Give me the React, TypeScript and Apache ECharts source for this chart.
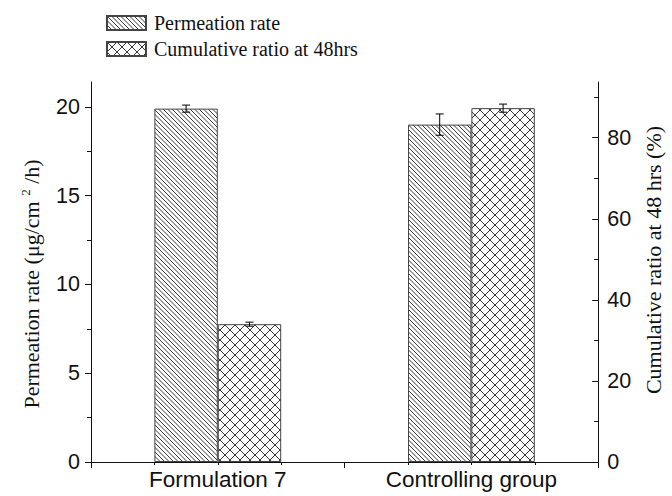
import React, { useEffect, useRef } from 'react';
import * as echarts from 'echarts';

const categories = ['Formulation 7', 'Controlling group'];
const seriesNames = ['Permeation rate', 'Cumulative ratio at 48hrs'];
const permeationRate = [19.9, 19.0];
const permeationErr = [0.2, 0.6];
const cumulativeRatio = [34.0, 87.3];
const cumulativeErr = [0.5, 1.0];
const leftTicks = [0, 5, 10, 15, 20];
const rightTicks = [0, 20, 40, 60, 80];

const SANS = 'Liberation Sans, Arial, sans-serif';
const SERIF = 'Liberation Serif, Times New Roman, serif';

function svgUrl(size: number, d: string) {
  const svg = `<svg xmlns='http://www.w3.org/2000/svg' width='${size}' height='${size}'><rect width='${size}' height='${size}' fill='white'/><path d='${d}' stroke='#222' stroke-width='0.9' fill='none'/></svg>`;
  return 'data:image/svg+xml;charset=utf-8,' + encodeURIComponent(svg);
}

function hatchPattern() {
  const s = 9;
  let d = '';
  for (const c of [-9, -4.5, 0, 4.5, 9]) {
    d += `M-1 ${-1 + c} L${s + 1} ${s + 1 + c} `;
  }
  return { image: svgUrl(s, d), repeat: 'repeat', imageWidth: s, imageHeight: s };
}

function crossPattern() {
  const s = 10;
  let d = '';
  for (const c of [-10, 0, 10]) {
    d += `M-1 ${-1 + c} L${s + 1} ${s + 1 + c} `;
  }
  for (const c of [0, 10, 20]) {
    d += `M-1 ${1 + c} L${s + 1} ${-s - 1 + c} `;
  }
  return { image: svgUrl(s, d), repeat: 'repeat', imageWidth: s, imageHeight: s };
}

function errorSeries(name: string, values: number[], errs: number[], yAxisIndex: number, side: number) {
  return {
    type: 'custom',
    name,
    xAxisIndex: 0,
    yAxisIndex,
    silent: true,
    z: 10,
    encode: { x: 0, y: 1 },
    data: values.map((v, i) => [i, v, errs[i]]),
    renderItem: (params: any, api: any) => {
      const i = api.value(0);
      const v = api.value(1);
      const e = api.value(2);
      const bw = api.size([1, 0])[0];
      const top = api.coord([i, v + e]);
      const bot = api.coord([i, v - e]);
      const x = top[0] + side * bw / 8;
      const hw = 4;
      const st = { stroke: '#000', lineWidth: 1 };
      return {
        type: 'group',
        children: [
          { type: 'line', shape: { x1: x, y1: top[1], x2: x, y2: bot[1] }, style: st },
          { type: 'line', shape: { x1: x - hw, y1: top[1], x2: x + hw, y2: top[1] }, style: st },
          { type: 'line', shape: { x1: x - hw, y1: bot[1], x2: x + hw, y2: bot[1] }, style: st },
        ],
      };
    },
  };
}

export default function App() {
  const ref = useRef<HTMLDivElement>(null);
  useEffect(() => {
    if (!ref.current) return;
    const chart = echarts.init(ref.current, null, { renderer: 'svg' });
    const axisLineStyle = { color: '#111', width: 1 };
    chart.setOption({
      animation: false,
      backgroundColor: '#fff',
      grid: { left: 91, right: 66, top: 82, bottom: 34 },
      legend: {
        data: seriesNames,
        orient: 'vertical',
        left: 106,
        top: 13,
        padding: 0,
        itemWidth: 39,
        itemHeight: 14,
        itemGap: 6,
        icon: 'rect',
        textStyle: { fontFamily: SERIF, fontSize: 20, color: '#111', padding: [0, 0, 0, 3] },
      },
      xAxis: [
        {
          type: 'category',
          data: categories,
          position: 'bottom',
          axisLine: { show: true, lineStyle: axisLineStyle },
          axisTick: { show: false },
          axisLabel: { fontFamily: SANS, fontSize: 22.5, color: '#111', margin: 6 },
          splitLine: { show: false },
        },
        {
          type: 'value',
          position: 'bottom',
          min: 0,
          max: 2,
          interval: 1,
          axisLine: { show: false },
          axisLabel: { show: false },
          axisTick: { show: true, length: 6, lineStyle: axisLineStyle },
          minorTick: { show: true, splitNumber: 4, length: 3, lineStyle: axisLineStyle },
          splitLine: { show: false },
        },
      ],
      yAxis: [
        {
          type: 'value',
          position: 'left',
          min: 0,
          max: 21.4,
          interval: 5,
          name: 'Permeation rate (μg/cm {sup|2} /h)',
          nameLocation: 'middle',
          nameRotate: 90,
          nameGap: 48,
          nameTextStyle: {
            fontFamily: SERIF,
            fontSize: 22,
            color: '#111',
            lineHeight: 24,
            padding: [0, 24, 0, 0],
            rich: { sup: { fontFamily: SERIF, fontSize: 13, color: '#111', verticalAlign: 'top', lineHeight: 24 } },
          },
          axisLine: { show: true, lineStyle: axisLineStyle },
          axisTick: { show: true, inside: false, length: 6, lineStyle: axisLineStyle, customValues: leftTicks },
          minorTick: { show: true, splitNumber: 2, length: 4, lineStyle: axisLineStyle },
          axisLabel: { fontFamily: SANS, fontSize: 21.5, color: '#111', margin: 11, customValues: leftTicks },
          splitLine: { show: false },
        },
        {
          type: 'value',
          position: 'right',
          min: 0,
          max: 93.75,
          interval: 20,
          name: 'Cumulative ratio at 48 hrs (%)',
          nameLocation: 'middle',
          nameRotate: 90,
          nameGap: 40,
          nameTextStyle: { fontFamily: SERIF, fontSize: 22, color: '#111', padding: [0, 0, 0, 24] },
          axisLine: { show: true, lineStyle: axisLineStyle },
          axisTick: { show: true, inside: true, length: 6, lineStyle: axisLineStyle, customValues: rightTicks },
          minorTick: { show: true, splitNumber: 2, length: 4, lineStyle: axisLineStyle },
          axisLabel: { fontFamily: SANS, fontSize: 21.5, color: '#111', margin: 9, customValues: rightTicks },
          splitLine: { show: false },
        },
      ],
      series: [
        {
          type: 'bar',
          name: seriesNames[0],
          xAxisIndex: 0,
          yAxisIndex: 0,
          data: permeationRate,
          barWidth: '25%',
          barGap: '0%',
          itemStyle: { color: hatchPattern(), borderColor: '#444', borderWidth: 1 },
        },
        {
          type: 'bar',
          name: seriesNames[1],
          xAxisIndex: 0,
          yAxisIndex: 1,
          data: cumulativeRatio,
          barWidth: '25%',
          barGap: '0%',
          itemStyle: { color: crossPattern(), borderColor: '#444', borderWidth: 1 },
        },
        errorSeries('err-perm', permeationRate, permeationErr, 0, -1),
        errorSeries('err-cum', cumulativeRatio, cumulativeErr, 1, 1),
      ],
    });
    return () => chart.dispose();
  }, []);
  return <div ref={ref} style={{ position: 'fixed', left: 0, top: 0, width: 672, height: 496 }} />;
}
